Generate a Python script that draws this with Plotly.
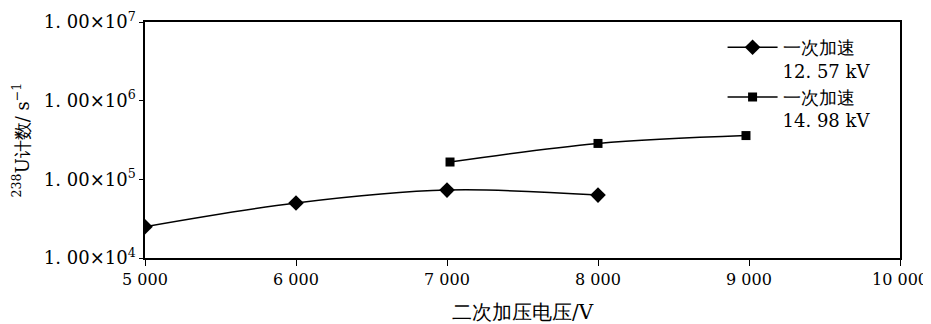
import plotly.graph_objects as go

x1 = [5000, 6000, 7000, 8000]
y1 = [2.5e4, 5.0e4, 7.3e4, 6.3e4]
x2 = [7020, 8000, 8980]
y2 = [1.66e5, 2.86e5, 3.6e5]
name1 = "一次加速<br>12. 57 kV"
name2 = "一次加速<br>14. 98 kV"
xticks = [5000, 6000, 7000, 8000, 9000, 10000]
xticklabels = ["5 000", "6 000", "7 000", "8 000", "9 000", "10 000"]
yticks = [1e4, 1e5, 1e6, 1e7]
yticklabels = ["1. 00×10<sup>4</sup>", "1. 00×10<sup>5</sup>", "1. 00×10<sup>6</sup>", "1. 00×10<sup>7</sup>"]

FONT = "DejaVu Serif"

fig = go.Figure()
fig.add_trace(go.Scatter(x=x1, y=y1, name=name1, mode="lines+markers",
                         line=dict(color="black", width=1.5, shape="spline"),
                         marker=dict(symbol="diamond", size=12, color="black")))
fig.add_trace(go.Scatter(x=x2, y=y2, name=name2, mode="lines+markers",
                         line=dict(color="black", width=1.5, shape="spline"),
                         marker=dict(symbol="square", size=9, color="black")))

fig.update_layout(
    width=923, height=316,
    margin=dict(l=137, r=31, t=14, b=66),
    paper_bgcolor="white", plot_bgcolor="white",
    font=dict(family=FONT, size=18, color="black"),
    showlegend=True,
    legend=dict(x=0.765, y=0.97, xanchor="left", yanchor="top", valign="top",
                bgcolor="rgba(0,0,0,0)", font=dict(size=18, family=FONT, color="black"),
                tracegroupgap=0, itemwidth=50),
    xaxis=dict(range=[5000, 10000], tickvals=xticks, ticktext=xticklabels,
               automargin=False, ticklabeloverflow="allow",
               showgrid=False, zeroline=False, showline=True, linecolor="black",
               linewidth=1.5, mirror=True, ticks="outside", ticklen=6,
               tickcolor="black", tickfont=dict(family=FONT, size=16, color="black"),
               title=dict(text="二次加压电压/V", font=dict(family=FONT, size=20, color="black"), standoff=20)),
    yaxis=dict(type="log", range=[4, 7], tickvals=yticks, ticktext=yticklabels,
               automargin=False, ticklabeloverflow="allow",
               showgrid=False, zeroline=False, showline=True, linecolor="black",
               linewidth=1.5, mirror=True, ticks="outside", ticklen=4,
               tickcolor="black", tickfont=dict(family=FONT, size=18, color="black"),
               title=dict(text="<sup>238</sup>U计数/ s<sup>−1</sup>", font=dict(family=FONT, size=18, color="black"), standoff=10)),
)
fig.write_html("out.html")
